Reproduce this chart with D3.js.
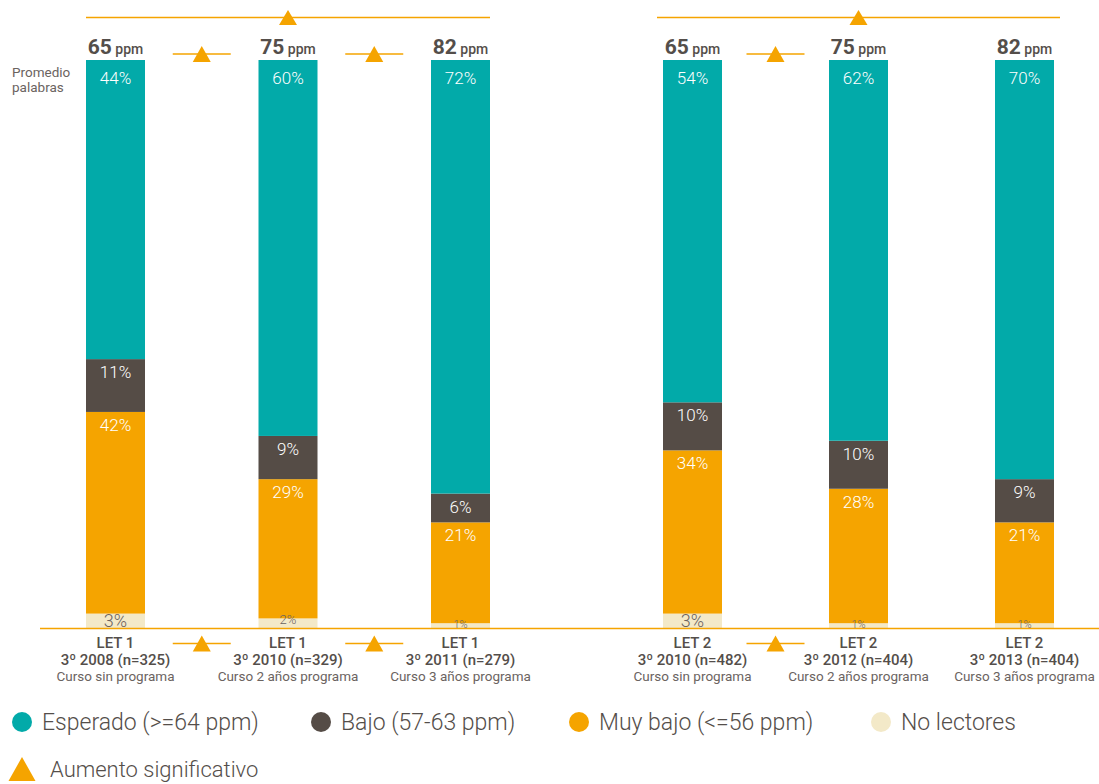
<!DOCTYPE html>
<html>
<head>
<meta charset="utf-8">
<script src="https://cdn.jsdelivr.net/npm/d3@7/dist/d3.min.js"></script>
<style>
  body { margin: 0; background: #fff; }
  svg { font-family: Roboto, "Noto Sans", sans-serif; }
</style>
</head>
<body>
<div id="chart"></div>
<script>
// data
var letLabels = ['LET 1', 'LET 1', 'LET 1', 'LET 2', 'LET 2', 'LET 2'];
var yearLabels = ['3º 2008 (n=325)', '3º 2010 (n=329)', '3º 2011 (n=279)',
                  '3º 2010 (n=482)', '3º 2012 (n=404)', '3º 2013 (n=404)'];
var courseLabels = ['Curso sin programa', 'Curso 2 años programa', 'Curso 3 años programa',
                    'Curso sin programa', 'Curso 2 años programa', 'Curso 3 años programa'];
var ppm = [65, 75, 82, 65, 75, 82];
var esperado = [44, 60, 72, 54, 62, 70];
var bajo = [11, 9, 6, 10, 10, 9];
var muyBajo = [42, 29, 21, 34, 28, 21];
var noLectores = [3, 2, 1, 3, 1, 1];
// significant increases: pairs of bar indexes
var bigArrows = [[0, 2], [3, 5]];
var smallArrows = [[0, 1], [1, 2], [3, 4]];

var legendItems = ['Esperado (>=64 ppm)', 'Bajo (57-63 ppm)', 'Muy bajo (<=56 ppm)', 'No lectores'];

var W = 1099, H = 784;
var teal = '#02aaa9', brown = '#554c46', orange = '#f5a400', cream = '#f3e9c8';
var dark = '#544e4a', grey = '#6b635f';

var svg = d3.select('#chart').append('svg')
  .attr('width', W).attr('height', H);

// two groups of three bars
var barW = 59;
var xLeft = d3.scalePoint().domain([0, 1, 2]).range([115.5, 460.5]);
var xRight = d3.scalePoint().domain([3, 4, 5]).range([692.5, 1024.5]);
function xc(i) { return i < 3 ? xLeft(i) : xRight(i); }

var y = d3.scaleLinear().domain([0, 118.3]).range([628, 60]);

var bars = d3.range(6).map(function(i) {
  return { i: i, esperado: esperado[i], bajo: bajo[i], muyBajo: muyBajo[i], noLectores: noLectores[i] };
});
var stack = d3.stack().keys(['noLectores', 'muyBajo', 'bajo'])(bars);
var colors = { noLectores: cream, muyBajo: orange, bajo: brown };

stack.forEach(function(layer) {
  var g = svg.append('g');
  g.selectAll('rect').data(layer).enter().append('rect')
    .attr('x', function(d, j) { return xc(j) - barW / 2; })
    .attr('width', barW)
    .attr('y', function(d) { return y(d[1]); })
    .attr('height', function(d) { return y(d[0]) - y(d[1]); })
    .attr('fill', colors[layer.key]);
});

// teal fills from the top of the stack to the top of the scale
var top3 = stack[2];
svg.append('g').selectAll('rect').data(top3).enter().append('rect')
  .attr('x', function(d, j) { return xc(j) - barW / 2; })
  .attr('width', barW)
  .attr('y', y(y.domain()[1]))
  .attr('height', function(d) { return y(d[1]) - y(y.domain()[1]); })
  .attr('fill', teal);

// baseline
svg.append('line').attr('x1', 40).attr('x2', W).attr('y1', 628.5).attr('y2', 628.5)
  .attr('stroke', orange).attr('stroke-width', 1.5);

// value labels
var lbl = svg.append('g').attr('text-anchor', 'middle').attr('font-weight', 300);
lbl.selectAll('.t').data(top3).enter().append('text')
  .attr('x', function(d, j) { return xc(j); })
  .attr('y', y(y.domain()[1]) + 24)
  .attr('font-size', 17).attr('fill', '#fff')
  .text(function(d, j) { return esperado[j] + '%'; });
['bajo', 'muyBajo'].forEach(function(k, n) {
  var layer = stack[2 - n];
  lbl.selectAll('.l' + k).data(layer).enter().append('text')
    .attr('x', function(d, j) { return xc(j); })
    .attr('y', function(d) { return y(d[1]) + 19; })
    .attr('font-size', 17).attr('fill', '#fff')
    .text(function(d, j) { return d.data[k] + '%'; });
});
lbl.selectAll('.nl').data(stack[0]).enter().append('text')
  .attr('x', function(d, j) { return xc(j); })
  .attr('y', function(d) { return d.data.noLectores >= 3 ? 627 : (d.data.noLectores == 2 ? 624 : 628); })
  .attr('font-size', function(d) { return d.data.noLectores >= 3 ? 18 : (d.data.noLectores == 2 ? 13 : 11); })
  .attr('fill', grey)
  .text(function(d) { return d.data.noLectores + '%'; });

// ppm labels
var pl = svg.append('g').selectAll('text').data(ppm).enter().append('text')
  .attr('x', function(d, i) { return xc(i); })
  .attr('y', 54)
  .attr('text-anchor', 'middle')
  .attr('fill', dark).attr('font-weight', 700);
pl.append('tspan').attr('font-size', 21).text(function(d) { return d; });
pl.append('tspan').attr('font-size', 14).attr('font-weight', 500).text(' ppm');

svg.append('text').attr('x', 12).attr('y', 77).attr('font-size', 13.5).attr('fill', grey).text('Promedio');
svg.append('text').attr('x', 12).attr('y', 92).attr('font-size', 13.5).attr('fill', grey).text('palabras');

// significance markers
function tri(cx, cy, w, h) {
  return 'M' + (cx - w / 2) + ',' + (cy + h / 2) + 'L' + cx + ',' + (cy - h / 2) + 'L' + (cx + w / 2) + ',' + (cy + h / 2) + 'Z';
}
bigArrows.forEach(function(p) {
  var x1 = xc(p[0]) - barW / 2, x2 = xc(p[1]) + barW / 2 + (p[0] > 2 ? 6 : 0);
  if (p[0] > 2) x1 -= 6;
  svg.append('line').attr('x1', x1).attr('x2', x2).attr('y1', 17.5).attr('y2', 17.5)
    .attr('stroke', orange).attr('stroke-width', 1.5);
  svg.append('path').attr('d', tri(xc(p[0] + 1), 17.5, 18, 15)).attr('fill', orange);
});
smallArrows.forEach(function(p) {
  var cx = (xc(p[0]) + xc(p[1])) / 2;
  [54, 643.5].forEach(function(cy) {
    svg.append('line').attr('x1', cx - 29).attr('x2', cx + 29).attr('y1', cy).attr('y2', cy)
      .attr('stroke', orange).attr('stroke-width', 1.5);
    svg.append('path').attr('d', tri(cx, cy, 18, 16)).attr('fill', orange);
  });
});

// category labels
var cl = svg.append('g').attr('text-anchor', 'middle');
cl.selectAll('.a').data(letLabels).enter().append('text')
  .attr('x', function(d, i) { return xc(i); }).attr('y', 648)
  .attr('font-size', 15).attr('font-weight', 500).attr('fill', dark).text(function(d) { return d; });
cl.selectAll('.b').data(yearLabels).enter().append('text')
  .attr('x', function(d, i) { return xc(i); }).attr('y', 665)
  .attr('font-size', 15).attr('font-weight', 500).attr('fill', dark).text(function(d) { return d; });
cl.selectAll('.c').data(courseLabels).enter().append('text')
  .attr('x', function(d, i) { return xc(i); }).attr('y', 681)
  .attr('font-size', 13.5).attr('fill', grey).text(function(d) { return d; });

// legend
var legColors = [teal, brown, orange, cream];
var legX = [22, 321, 579, 881];
var leg = svg.append('g');
legendItems.forEach(function(t, i) {
  leg.append('circle').attr('cx', legX[i]).attr('cy', 722).attr('r', 10).attr('fill', legColors[i]);
  leg.append('text').attr('x', legX[i] + 20).attr('y', 730).attr('font-size', 23)
    .attr('font-weight', 300).attr('fill', dark).text(t);
});
leg.append('path').attr('d', tri(22, 769, 27, 24)).attr('fill', orange);
leg.append('text').attr('x', 50).attr('y', 777).attr('font-size', 22)
  .attr('font-weight', 300).attr('fill', dark).text('Aumento significativo');
</script>
</body>
</html>
